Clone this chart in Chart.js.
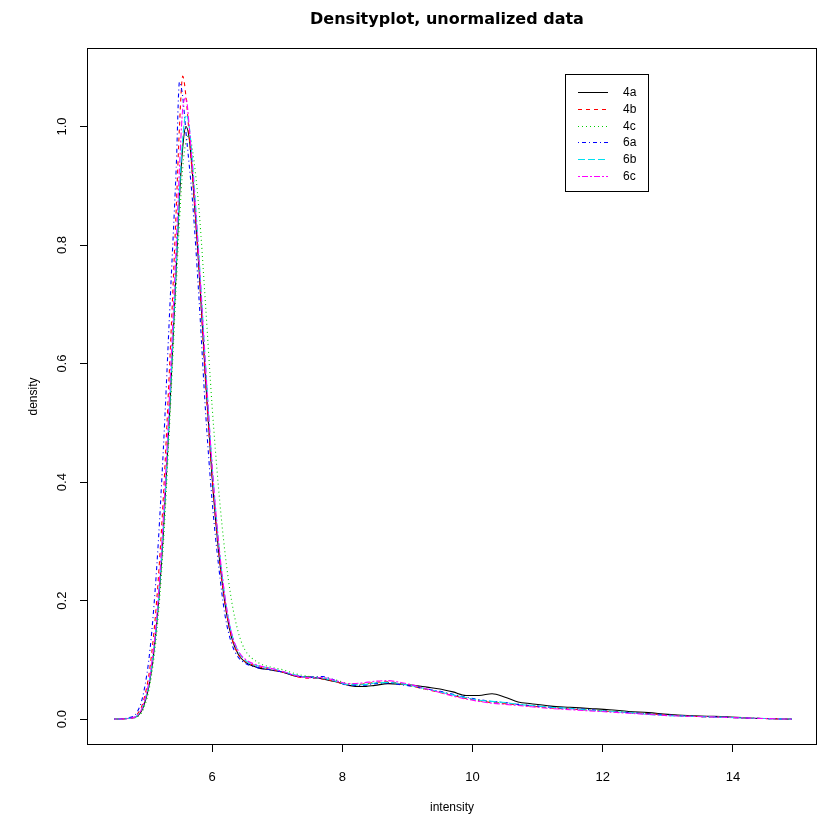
<!DOCTYPE html>
<html>
<head>
<meta charset="utf-8">
<title>Densityplot, unormalized data</title>
<script src="https://cdn.jsdelivr.net/npm/chart.js@4/dist/chart.umd.min.js"></script>
<style>
    html, body { margin: 0; padding: 0; background: #fff; }
    #wrap { width: 819px; height: 816px; }
</style>
</head>
<body>
<div id="wrap"><canvas id="grafico-densidade"></canvas></div>
<script>
// eixo x comum (intensity) e as densidades
const intensity = [4.5, 4.7, 4.85, 4.95, 5.05, 5.15, 5.25, 5.35, 5.45, 5.5,
    5.55, 5.6, 5.65, 5.7, 5.8, 5.9, 6.0, 6.1, 6.2, 6.3,
    6.4, 6.5, 6.7, 6.9, 7.1, 7.3, 7.5, 7.7, 7.9, 8.1,
    8.3, 8.5, 8.7, 8.9, 9.1, 9.3, 9.5, 9.7, 9.9, 10.1,
    10.3, 10.5, 10.7, 10.9, 11.2, 11.5, 11.8, 12.1, 12.4, 12.7,
    13.0, 13.3, 13.6, 13.9, 14.2, 14.5, 14.9];

const dens4a = [0, 0.001, 0.005, 0.022, 0.068, 0.16, 0.31, 0.52, 0.76, 0.88,
    0.965, 1.0, 0.98, 0.92, 0.76, 0.575, 0.41, 0.285, 0.195, 0.138,
    0.11, 0.097, 0.087, 0.083, 0.079, 0.072, 0.071, 0.068, 0.063, 0.057,
    0.055, 0.057, 0.06, 0.059, 0.057, 0.054, 0.051, 0.046, 0.04, 0.04,
    0.043, 0.037, 0.029, 0.026, 0.022, 0.02, 0.018, 0.016, 0.013, 0.011,
    0.008, 0.006, 0.005, 0.004, 0.002, 0.001, 0];
const dens4b = [0, 0.001, 0.008, 0.032, 0.09, 0.2, 0.37, 0.6, 0.86, 1.0,
    1.085, 1.05, 0.985, 0.915, 0.76, 0.57, 0.41, 0.285, 0.195, 0.138,
    0.11, 0.098, 0.089, 0.084, 0.079, 0.072, 0.069, 0.068, 0.063, 0.058,
    0.059, 0.062, 0.063, 0.06, 0.055, 0.05, 0.045, 0.04, 0.035, 0.031,
    0.028, 0.026, 0.024, 0.022, 0.019, 0.017, 0.015, 0.013, 0.011, 0.009,
    0.007, 0.005, 0.004, 0.003, 0.002, 0.001, 0];
const dens4c = [0, 0.001, 0.004, 0.018, 0.06, 0.145, 0.29, 0.5, 0.73, 0.84,
    0.93, 0.975, 0.985, 0.96, 0.86, 0.7, 0.53, 0.39, 0.28, 0.2,
    0.148, 0.118, 0.096, 0.088, 0.083, 0.076, 0.072, 0.07, 0.066, 0.06,
    0.059, 0.061, 0.062, 0.059, 0.055, 0.05, 0.046, 0.041, 0.036, 0.032,
    0.029, 0.027, 0.025, 0.023, 0.02, 0.018, 0.016, 0.014, 0.012, 0.009,
    0.007, 0.005, 0.004, 0.003, 0.002, 0.001, 0];
const dens6a = [0, 0.002, 0.012, 0.045, 0.12, 0.255, 0.45, 0.69, 0.93, 1.075,
    1.05, 0.99, 0.935, 0.875, 0.71, 0.52, 0.37, 0.26, 0.175, 0.128,
    0.105, 0.095, 0.087, 0.083, 0.079, 0.073, 0.071, 0.072, 0.065, 0.057,
    0.057, 0.06, 0.061, 0.058, 0.055, 0.051, 0.047, 0.042, 0.037, 0.033,
    0.03, 0.028, 0.025, 0.023, 0.02, 0.018, 0.016, 0.013, 0.011, 0.009,
    0.007, 0.005, 0.004, 0.003, 0.002, 0.001, 0];
const dens6b = [0, 0.001, 0.006, 0.025, 0.072, 0.165, 0.32, 0.53, 0.77, 0.89,
    0.98, 1.02, 1.0, 0.94, 0.78, 0.6, 0.43, 0.3, 0.205, 0.145,
    0.115, 0.1, 0.09, 0.086, 0.08, 0.074, 0.07, 0.069, 0.064, 0.058,
    0.058, 0.061, 0.062, 0.06, 0.056, 0.051, 0.046, 0.041, 0.036, 0.032,
    0.03, 0.028, 0.025, 0.023, 0.02, 0.018, 0.015, 0.013, 0.011, 0.008,
    0.006, 0.005, 0.004, 0.003, 0.002, 0.001, 0];
const dens6c = [0, 0.001, 0.006, 0.026, 0.076, 0.172, 0.335, 0.555, 0.8, 0.93,
    1.03, 1.048, 1.0, 0.93, 0.775, 0.595, 0.43, 0.3, 0.205, 0.145,
    0.116, 0.102, 0.091, 0.086, 0.08, 0.073, 0.07, 0.07, 0.065, 0.06,
    0.061, 0.064, 0.065, 0.062, 0.057, 0.051, 0.045, 0.039, 0.034, 0.03,
    0.027, 0.025, 0.023, 0.021, 0.018, 0.016, 0.014, 0.012, 0.01, 0.008,
    0.006, 0.005, 0.004, 0.003, 0.002, 0.001, 0];

const sampleNames = ['4a', '4b', '4c', '6a', '6b', '6c'];
const sampleDens = [dens4a, dens4b, dens4c, dens6a, dens6b, dens6c];

const xTicks = [6, 8, 10, 12, 14];
const yTicks = [0, 0.2, 0.4, 0.6, 0.8, 1.0];
const xRange = [4.08, 15.29];
const yRange = [-0.0436, 1.1325];
const chartTitle = 'Densityplot, unormalized data';

// estilos (paleta padrão do R e tipos de linha 1..6)
const lineColors = ['#000000', '#ff0000', '#00cd00', '#0000ff', '#00e0f0', '#ff00ff'];
const lineDashes = [[], [4, 4], [1, 3], [1, 3, 4, 3], [7, 3], [2, 2, 6, 2]];
const fontFamily = '"Liberation Sans", Arial, Helvetica, sans-serif';

document.addEventListener('DOMContentLoaded', () => {
    const ctx = document.getElementById('grafico-densidade').getContext('2d');

    const datasets = sampleNames.map((name, i) => ({
        label: name,
        data: intensity.map((x, j) => ({ x: x, y: sampleDens[i][j] })),
        borderColor: lineColors[i],
        borderDash: lineDashes[i],
        borderWidth: 1.1,
        pointRadius: 0,
        fill: false,
        cubicInterpolationMode: 'monotone',
        order: sampleNames.length - i
    }));

    // caixa em volta da área do gráfico + título centrado na área
    const boxPlugin = {
        id: 'caixaPlot',
        afterDatasetsDraw(chart) {
            const a = chart.chartArea;
            const c = chart.ctx;
            c.save();
            c.strokeStyle = '#000';
            c.lineWidth = 1;
            c.setLineDash([]);
            c.strokeRect(Math.round(a.left) + 0.5, Math.round(a.top) + 0.5,
                Math.round(a.right - a.left) - 1, Math.round(a.bottom - a.top) - 1);
            c.fillStyle = '#000';
            c.font = 'bold 16px "DejaVu Sans", sans-serif';
            c.textAlign = 'center';
            c.textBaseline = 'middle';
            c.fillText(chartTitle, (a.left + a.right) / 2 - 5, 20);
            c.restore();
        }
    };

    // legenda com caixa, como no R
    const legendPlugin = {
        id: 'legendaR',
        afterDraw(chart) {
            const a = chart.chartArea;
            const c = chart.ctx;
            const left = Math.round(a.left) + 478;
            const top = Math.round(a.top) + 26;
            c.save();
            c.fillStyle = '#fff';
            c.fillRect(left, top, 83, 117);
            c.strokeStyle = '#000';
            c.lineWidth = 1;
            c.strokeRect(left + 0.5, top + 0.5, 83, 117);
            c.font = '12px ' + fontFamily;
            c.textBaseline = 'middle';
            c.textAlign = 'left';
            chart.data.datasets.forEach((ds, i) => {
                const y = Math.round(top + 18 + i * 16.8) + 0.5;
                c.strokeStyle = ds.borderColor;
                c.setLineDash(ds.borderDash);
                c.beginPath();
                c.moveTo(left + 13, y);
                c.lineTo(left + 43, y);
                c.stroke();
                c.fillStyle = '#000';
                c.fillText(ds.label, left + 58, y);
            });
            c.restore();
        }
    };

    new Chart(ctx, {
        type: 'line',
        data: { datasets: datasets },
        plugins: [boxPlugin, legendPlugin],
        options: {
            responsive: true,
            maintainAspectRatio: false,
            animation: false,
            layout: { padding: { top: 48, right: 2, bottom: 0, left: 0 } },
            plugins: {
                legend: { display: false },
                tooltip: { enabled: false },
                title: { display: false }
            },
            scales: {
                x: {
                    type: 'linear',
                    min: xRange[0],
                    max: xRange[1],
                    afterBuildTicks: s => { s.ticks = xTicks.map(v => ({ value: v })); },
                    afterFit: s => { s.height = 71; },
                    border: { display: false },
                    grid: { drawOnChartArea: false, drawTicks: true, tickLength: 7, color: '#000', lineWidth: 1 },
                    ticks: {
                        color: '#000',
                        font: { family: fontFamily, size: 13 },
                        padding: 18,
                        maxRotation: 0,
                        autoSkip: false,
                        callback: v => String(v)
                    },
                    title: {
                        display: true,
                        text: 'intensity',
                        color: '#000',
                        font: { family: fontFamily, size: 12 },
                        padding: { top: 0, bottom: 1 }
                    }
                },
                y: {
                    type: 'linear',
                    min: yRange[0],
                    max: yRange[1],
                    afterBuildTicks: s => { s.ticks = yTicks.map(v => ({ value: v })); },
                    afterFit: s => { s.width = 87; },
                    border: { display: false },
                    grid: { drawOnChartArea: false, drawTicks: true, tickLength: 7, color: '#000', lineWidth: 1 },
                    ticks: {
                        color: '#000',
                        font: { family: fontFamily, size: 13 },
                        minRotation: 90,
                        maxRotation: 90,
                        crossAlign: 'center',
                        padding: 9,
                        autoSkip: false,
                        callback: v => v.toFixed(1)
                    },
                    title: {
                        display: true,
                        text: 'density',
                        color: '#000',
                        font: { family: fontFamily, size: 12 },
                        padding: { top: 26, bottom: 0 }
                    }
                }
            }
        }
    });
});
</script>
</body>
</html>
